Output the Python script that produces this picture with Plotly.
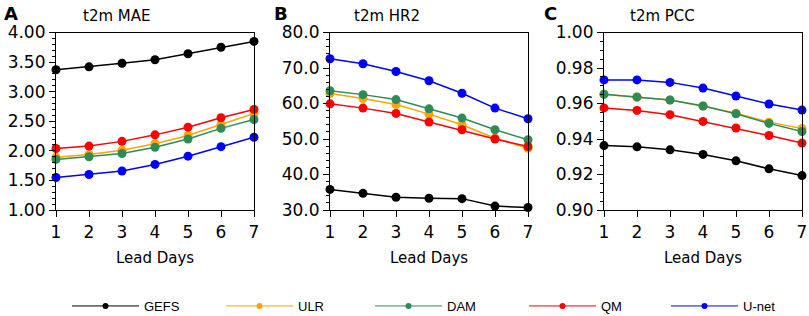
import plotly.graph_objects as go

days = [1, 2, 3, 4, 5, 6, 7]
models = ["GEFS", "ULR", "DAM", "QM", "U-net"]
colors = ["#000000", "#FFA500", "#2E8B57", "#FF0000", "#0000FF"]

mae = {
    "GEFS": [3.37, 3.42, 3.48, 3.54, 3.64, 3.75, 3.85],
    "ULR": [1.89, 1.94, 2.01, 2.12, 2.26, 2.45, 2.63],
    "DAM": [1.855, 1.90, 1.955, 2.06, 2.20, 2.38, 2.53],
    "QM": [2.04, 2.08, 2.16, 2.27, 2.40, 2.56, 2.70],
    "U-net": [1.55, 1.60, 1.66, 1.77, 1.91, 2.07, 2.23],
}
hr2 = {
    "GEFS": [35.8, 34.7, 33.6, 33.3, 33.2, 31.1, 30.7],
    "ULR": [62.8, 61.4, 59.7, 57.0, 54.0, 50.2, 47.4],
    "DAM": [63.6, 62.5, 61.1, 58.5, 55.9, 52.6, 49.8],
    "QM": [59.9, 58.7, 57.2, 54.8, 52.6, 50.0, 47.9],
    "U-net": [72.6, 71.2, 69.0, 66.4, 62.9, 58.7, 55.7],
}
pcc = {
    "GEFS": [0.9363, 0.9356, 0.9339, 0.9313, 0.9277, 0.9232, 0.9194],
    "ULR": [0.9652, 0.9635, 0.9620, 0.9586, 0.9545, 0.9495, 0.9459],
    "DAM": [0.9652, 0.9637, 0.9620, 0.9586, 0.9542, 0.9488, 0.9442],
    "QM": [0.9575, 0.9561, 0.9537, 0.9499, 0.9462, 0.9420, 0.9377],
    "U-net": [0.9733, 0.9733, 0.9719, 0.9687, 0.9642, 0.9597, 0.9563],
}

panels = [
    ("A", "t2m MAE", mae, [1.0, 4.0], 0.5, ".2f", 0.1),
    ("B", "t2m HR2", hr2, [30, 80], 10, ".1f", 2),
    ("C", "t2m PCC", pcc, [0.90, 1.00], 0.02, ".2f", 0.005),
]

W, H = 809, 316
xpix = [(56, 254), (330, 528), (604, 802)]
ytop, ybot = 32.5, 210
title_x = [81, 352, 628]
letter_x = [2, 272, 542]
legend_line_start = [73, 227, 376, 530, 672]

fig = go.Figure()
FONT = "DejaVu Sans"

for i, (letter, title, data, yr, dtick, fmt, minor) in enumerate(panels):
    xa = "x" if i == 0 else f"x{i+1}"
    ya = "y" if i == 0 else f"y{i+1}"
    for m, c in zip(models, colors):
        fig.add_trace(go.Scatter(
            x=days, y=data[m], mode="lines+markers", name=m,
            line=dict(color=c, width=1.5),
            marker=dict(color=c, size=9),
            xaxis=xa, yaxis=ya, showlegend=False, cliponaxis=False,
        ))
    axkey = "" if i == 0 else str(i + 1)
    fig.update_layout(**{
        f"xaxis{axkey}": dict(
            domain=[xpix[i][0] / W, xpix[i][1] / W], range=[1, 7],
            anchor=ya, tickmode="array", tickvals=days, ticktext=[str(d) for d in days],
            ticks="outside", ticklen=6, tickwidth=1, tickcolor="black",
            showline=True, linecolor="black", linewidth=1.2, mirror=True,
            showgrid=False, zeroline=False, automargin=False,
            tickfont=dict(family=FONT, size=17, color="black"),
            title=dict(text="Lead Days", font=dict(family=FONT, size=15, color="black"), standoff=11),
        ),
        f"yaxis{axkey}": dict(
            domain=[1 - ybot / H, 1 - ytop / H], range=yr,
            anchor=xa, dtick=dtick, tick0=yr[0], tickformat=fmt,
            ticks="outside", ticklen=6, tickwidth=1, tickcolor="black",
            minor=dict(dtick=minor, ticks="outside", ticklen=3, tickcolor="black", tickwidth=1),
            showline=True, linecolor="black", linewidth=1.2, mirror=True,
            showgrid=False, zeroline=False, automargin=False,
            tickfont=dict(family=FONT, size=17, color="black"),
        ),
    })
    fig.add_annotation(x=title_x[i] / W, y=1 - 16 / H, xref="paper", yref="paper",
                       text=title, showarrow=False, xanchor="left", yanchor="middle",
                       font=dict(family=FONT, size=15, color="black"))
    fig.add_annotation(x=letter_x[i] / W, y=1 - 13 / H, xref="paper", yref="paper",
                       text=f"<b>{letter}</b>", showarrow=False, xanchor="left", yanchor="middle",
                       font=dict(family=FONT, size=18, color="black"))

# legend entries (draw nothing themselves), one legend box per entry
legend_layout = {}
for k, (m, c) in enumerate(zip(models, colors)):
    lname = "legend" if k == 0 else f"legend{k+1}"
    fig.add_trace(go.Scatter(
        x=[None], y=[None], mode="lines+markers", name=m,
        line=dict(color=c, width=1), marker=dict(color=c, size=6),
        showlegend=True, legend=lname,
    ))
    legend_layout[lname] = dict(
        orientation="h", x=(legend_line_start[k] - 6) / W, xanchor="left",
        y=1 - 306 / H, yanchor="middle", itemwidth=67,
        font=dict(family="Liberation Sans", size=13, color="black"),
        bgcolor="rgba(0,0,0,0)",
    )

fig.update_layout(
    width=W, height=H, margin=dict(l=0, r=0, t=0, b=0, autoexpand=False),
    paper_bgcolor="white", plot_bgcolor="white",
    showlegend=True,
    **legend_layout,
)

fig.write_html("out.html", config={"displayModeBar": False},
               post_script="document.body.style.margin='0';document.body.style.overflow='hidden';")
